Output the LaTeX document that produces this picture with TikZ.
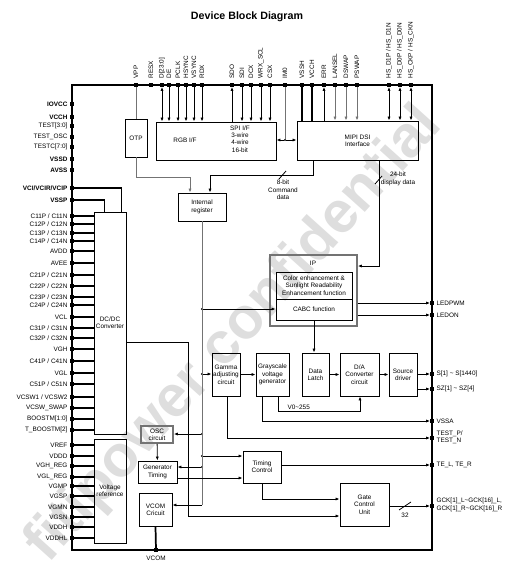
\documentclass[tikz,border=0pt]{standalone}
\usepackage{fontspec}
\setmainfont{Liberation Sans}
\usetikzlibrary{arrows.meta}
\tikzset{
  >={Latex[length=3pt,width=2.4pt]},
  blk/.style={draw, line width=.7pt, align=center, inner sep=0pt, font=\fontsize{4.8}{5.5}\selectfont},
  gblk/.style={blk, draw=black!55, line width=1.3pt},
  pin/.style={fill, inner sep=0pt, minimum size=2.5pt},
  lab/.style={font=\fontsize{4.8}{5.5}\selectfont, inner sep=1pt},
  dot/.style={circle, fill, inner sep=0pt, minimum size=1.6pt},
  wire/.style={line width=.6pt},
  gwire/.style={line width=.6pt, draw=black!55},
  pwr/.style={line width=1.3pt},
}
\begin{document}
\begin{tikzpicture}[x=0.75pt,y=-0.75pt]
            \useasboundingbox (0,0) rectangle (516,578);
            \def\dbox#1#2#3#4#5#6#7{\node[#1,minimum width={(#5-#3)*0.75pt},minimum height={(#6-#4)*0.75pt}] (#2) at ({(#3+#5)/2},{(#4+#6)/2}) {#7};}
            \node[rotate=48, text=black!13, font=\fontsize{44}{44}\selectfont\bfseries] (wm) at (235,335) {fitipower confidential};
            \node[font=\fontsize{8}{9}\selectfont\bfseries] (title) at (247,17) {Device Block Diagram};
            \draw[line width=1pt] (72,85) rectangle (432,550);
            \dbox{blk}{otp}{125}{119}{147}{157}{OTP}
            \dbox{blk}{rgb}{156}{122}{276}{160}{}
            \node[lab] (rgbt) at (185,140) {RGB I/F};
            \node[lab, align=center] (spit) at (240,139) {SPI I/F\\3-wire\\4-wire\\16-bit};
            \dbox{blk}{mipi}{297}{121}{418}{160}{MIPI DSI\\Interface}
            \dbox{blk}{reg}{178}{193}{226}{221}{Internal\\register}
            \dbox{gblk}{ip}{270}{255}{357}{326}{}
            \node[lab] (ipt) at (313,263) {IP};
            \dbox{blk}{enh}{276}{272}{352}{299}{Color enhancement \&\\Sunlight Readability\\Enhancement function}
            \dbox{blk}{cabc}{276}{299}{352}{320}{CABC function}
            \dbox{blk}{dcdc}{94}{212}{126}{434}{DC/DC\\Converter}
            \dbox{blk}{vref}{94}{439}{126}{543}{Voltage\\reference}
            \dbox{blk}{gamma}{212}{353}{240}{396}{Gamma\\adjusting\\circuit}
            \dbox{blk}{gray}{256}{353}{289}{396}{Grayscale\\voltage\\generator}
            \dbox{blk}{latch}{302}{353}{329}{396}{Data\\Latch}
            \dbox{blk}{dac}{340}{353}{379}{396}{D/A\\Converter\\circuit}
            \dbox{blk}{src}{389}{353}{417}{396}{Source\\driver}
            \dbox{gblk}{osc}{141}{426}{173}{443}{OSC\\circuit}
            \dbox{blk}{gen}{138}{461}{177}{483}{Generator\\Timing}
            \dbox{blk}{tc}{243}{451}{281}{483}{Timing\\Control}
            \dbox{blk}{gate}{340}{483}{389}{526}{Gate\\Control\\Unit}
            \dbox{blk}{vcomc}{139}{493}{172}{526}{VCOM\\Cricuit}
            \foreach \x/\lab/\n in {136/VPP/vpp, 151/RESX/resx, 162/D[23:0]/dd, 169/DE/de, 178/PCLK/pclk, 186/HSYNC/hsync, 194/VSYNC/vsync, 202/RDX/rdx, 232/SDO/sdo, 242/SDI/sdi, 251/DCX/dcx, 261/WRX\_SCL/wrx, 270/CSX/csx, 285/IM0/imo, 302/VSSH/vssh, 312/VCCH/vcchm, 324/ERR/err, 335/LANSEL/lansel, 346/DSWAP/dswap, 357/PSWAP/pswap, 389/{HS\_D1P / HS\_D1N}/hsda, 400/{HS\_D0P / HS\_D0N}/hsdb, 411/{HS\_CKP / HS\_CKN}/hsck}
              {\node[pin] (\n) at (\x,85) {};
               \node[lab, rotate=90, anchor=west] at (\x,80) {\lab};}
            \draw[gwire] (vpp) -- (vpp |- otp.north);
            \draw[wire,<->] (dd) -- (dd |- rgb.north);
            \foreach \n in {de,pclk,hsync,vsync,rdx,sdi,dcx,wrx,csx}\draw[wire,->] (\n) -- (\n |- rgb.north);
            \draw[wire,<-] (sdo) -- (sdo |- rgb.north);
            \node[dot] (imd) at (285,140) {};
            \draw[gwire] (imo) -- (imd);
            \draw[wire,->] (imd) -- (rgb.east |- imd);
            \draw[wire,->] (imd) -- (mipi.west |- imd);
            \draw[pwr] (vssh) -- (vssh |- mipi.north);
            \draw[pwr] (vcchm) -- (vcchm |- mipi.north);
            \draw[wire,<-] (err) -- (err |- mipi.north);
            \foreach \n in {lansel,dswap,pswap}\draw[gwire,->] (\n) -- (\n |- mipi.north);
            \foreach \n in {hsda,hsdb,hsck}\draw[wire,<->] (\n) -- (\n |- mipi.north);
            \foreach \y/\lab/\n in {104/{\bfseries IOVCC}/iovcc, 117/{\bfseries VCCH}/vcch, 126/TEST[3:0]/test, 137/TEST\_OSC/tosc, 147/TESTC[7:0]/testc, 159/{\bfseries VSSD}/vssd, 170/{\bfseries AVSS}/avss, 188/{\bfseries VCI/VCIR/VCIP}/vci, 200/{\bfseries VSSP}/vssp}
              {\node[pin] (\n) at (72,\y) {};
               \node[lab, anchor=east] at (69,\y) {\lab};}
            \draw[pwr] (vci) -| ([xshift=-3.75pt]dcdc.north east);
            \draw[pwr] (vssp) -| ([xshift=8.25pt]dcdc.north west);
            \foreach \y/\lab [count=\i] in {216/{C11P / C11N}, 224/{C12P / C12N}, 233/{C13P / C13N}, 241/{C14P / C14N}, 251/AVDD, 263/AVEE, 275/{C21P / C21N}, 286/{C22P / C22N}, 297/{C23P / C23N}, 305/{C24P / C24N}, 317/VCL, 328/{C31P / C31N}, 338/{C32P / C32N}, 349/VGH, 361/{C41P / C41N}, 373/VGL, 384/{C51P / C51N}, 397/{VCSW1 / VCSW2}, 408/VCSW\_SWAP, 419/BOOSTM[1:0], 430/T\_BOOSTM[2]}
              {\node[pin] (dc\i) at (72,\y) {};
               \node[lab, anchor=east] at (69,\y) {\lab};
               \draw[line width=.8pt] (dc\i) -- (dcdc.west |- dc\i);}
            \foreach \y/\lab [count=\i] in {445/VREF, 456/VDDD, 466/VGH\_REG, 477/VGL\_REG, 486/VGMP, 496/VGSP, 507/VGMN, 517/VGSN, 527/VDDH, 538/VDDHL}
              {\node[pin] (vr\i) at (72,\y) {};
               \node[lab, anchor=east] at (69,\y) {\lab};
               \draw[line width=.8pt] (vr\i) -- (vref.west |- vr\i);}
            \foreach \y/\n in {303/ledpwm, 315/ledon, 374/spin, 389/szpin, 421/vssa, 438/testp, 465/te, 506/gck}\node[pin] (\n) at (432,\y) {};
            \node[lab, anchor=west] at (435,303) {LEDPWM};
            \node[lab, anchor=west] at (435,315) {LEDON};
            \node[lab, anchor=west] at (435,374) {S[1] \textasciitilde\ S[1440]};
            \node[lab, anchor=west] at (435,389) {SZ[1] \textasciitilde\ SZ[4]};
            \node[lab, anchor=west] at (435,421) {VSSA};
            \node[lab, anchor=west, align=left] at (435,437) {TEST\_P/\\TEST\_N};
            \node[lab, anchor=west] at (435,465) {TE\_L, TE\_R};
            \node[lab, anchor=west, align=left] at (435,505) {GCK[1]\_L\textasciitilde GCK[16]\_L,\\GCK[1]\_R\textasciitilde GCK[16]\_R};
            \coordinate (ob) at (190,177);
            \draw[gwire,->] (otp.south) |- (ob) -- (ob |- reg.north);
            \coordinate (cs) at (313,175);
            \coordinate (cb) at (210,175);
            \draw[wire,->] (mipi.south -| cs) -- (cs) -- (cb) -- (cb |- reg.north);
            \draw[wire] (279,179)--(286,171);
            \node[lab, align=center] (cmdt) at (283,190) {8-bit\\Command\\data};
            \coordinate (c24) at (379,266);
            \draw[wire,->] (mipi.south -| c24) -- (c24) -- (ip.east |- c24);
            \draw[wire] (375,184)--(382,176);
            \node[lab, align=center] (dispt) at (398,179) {24-bit\\display data};
            \draw[wire,->] (ip.east |- ledpwm) -- (ledpwm);
            \draw[wire,->] (ip.east |- ledon) -- (ledon);
            \draw[wire,->] (cabc.south) -- (cabc.south |- latch.north);
            \foreach \y/\n in {309/bcabc, 374/bgam, 434/bosc, 456/btc, 467/bgen}\node[dot] (\n) at (202,\y) {};
            \coordinate (bend) at (202,505);
            \draw[gwire] (reg.south) -- (bend);
            \draw[wire,->] (bend) -- (vcomc.east |- bend);
            \draw[wire,->] (bcabc) -- (cabc.west |- bcabc);
            \draw[wire,->] (bgam) -- (gamma.west |- bgam);
            \draw[wire,->] (bosc) -- (osc.east |- bosc);
            \draw[wire,->] (btc) -- (tc.west |- btc);
            \draw[wire,->] (bgen) -- (gen.east |- bgen);
            \draw[wire,->] (gamma) -- (gray);
            \draw[wire,->] (latch) -- (dac);
            \draw[wire,->] (dac) -- (src);
            \draw[wire,->] (src.east |- spin) -- (spin);
            \draw[wire,->] (src.east |- szpin) -- (szpin);
            \coordinate (va) at (278,411);
            \coordinate (vb) at (360,411);
            \draw[wire,->] (gray.south -| va) -- (va) -- (vb) -- (vb |- dac.south);
            \node[lab, anchor=south west] (vt) at (286,411) {V0\textasciitilde255};
            \coordinate (vs) at (262,421);
            \draw[wire,->] (gray.south -| vs) -- (vs) -- (vssa);
            \coordinate (tp) at (227,438);
            \draw[wire,->] (gamma.south -| tp) -- (tp) -- (testp);
            \draw[wire,->] (osc) -- (gen);
            \coordinate (gt) at (177,478);
            \draw[wire,->] (gt) -- (tc.west |- gt);
            \draw[wire,->] (tc.east |- te) -- (te);
            \coordinate (tg) at (262,499);
            \draw[wire,->] (tc.south -| tg) -- (tg) -- (gate.west |- tg);
            \coordinate (da) at (188,342);
            \coordinate (db) at (188,516);
            \draw[wire,->] (dcdc.east |- da) -- (da) -- (db) -- (gate.west |- db);
            \draw[wire,->] (gate.east |- gck) -- (gck);
            \draw[wire] (399,510)--(411,502);
            \node[lab] (bust) at (405,515) {32};
            \node[pin] (vcompin) at (156,550) {};
            \node[lab] at (156,558) {VCOM};
            \draw[pwr] (vcomc.south) -- (vcompin);
        \end{tikzpicture}
\end{document}
